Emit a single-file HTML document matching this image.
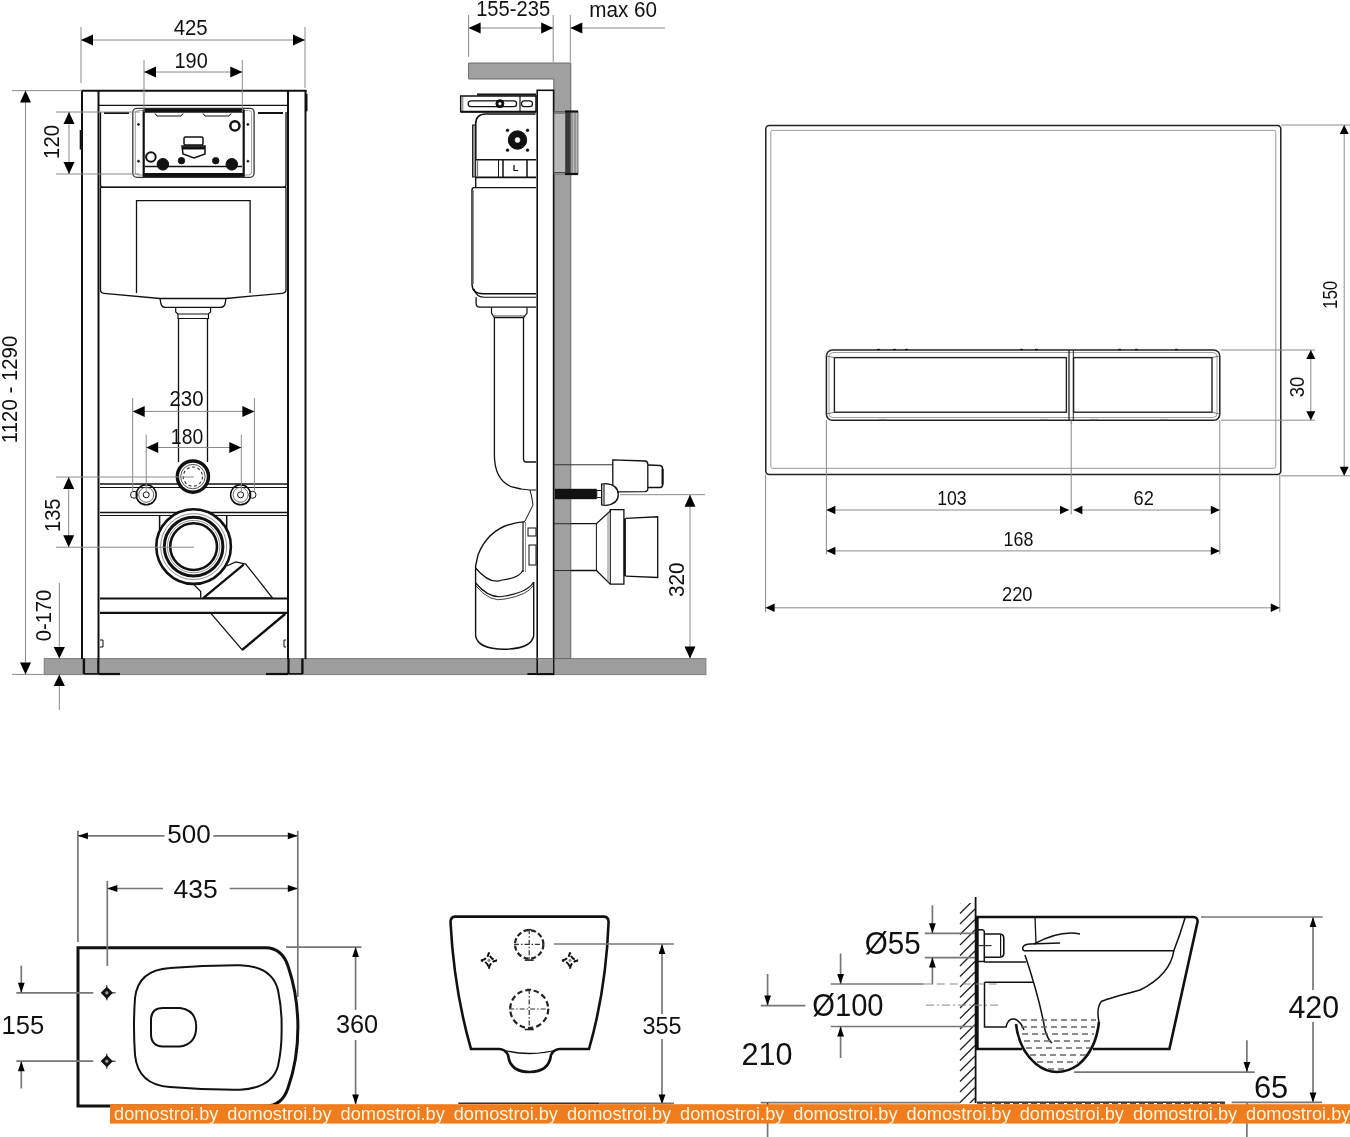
<!DOCTYPE html>
<html><head><meta charset="utf-8"><style>
html,body{margin:0;padding:0;background:#fff;}
body{width:1350px;height:1137px;overflow:hidden;}
svg{display:block;will-change:transform;}
text{font-family:"Liberation Sans",sans-serif;}
</style></head><body>
<svg width="1350" height="1137" viewBox="0 0 1350 1137">
<rect x="44.3" y="658.6" width="661.5" height="15.9" rx="0" stroke="#858585" stroke-width="1.2" fill="#9e9e9e" />
<line x1="82" y1="90" x2="82" y2="659" stroke="#111" stroke-width="2" />
<line x1="98.5" y1="90" x2="98.5" y2="659" stroke="#111" stroke-width="2" />
<line x1="83.9" y1="658.5" x2="83.9" y2="674" stroke="#111" stroke-width="2.4" />
<line x1="98.3" y1="658.5" x2="98.3" y2="674" stroke="#111" stroke-width="2.2" />
<line x1="83.9" y1="673.8" x2="98.3" y2="673.8" stroke="#111" stroke-width="1.5" />
<line x1="305.5" y1="90" x2="305.5" y2="659" stroke="#111" stroke-width="2" />
<line x1="288" y1="90" x2="288" y2="659" stroke="#111" stroke-width="2" />
<line x1="302.4" y1="658.5" x2="302.4" y2="674" stroke="#111" stroke-width="2.4" />
<line x1="288.5" y1="658.5" x2="288.5" y2="674" stroke="#111" stroke-width="2.2" />
<line x1="288.5" y1="673.8" x2="302.4" y2="673.8" stroke="#111" stroke-width="1.5" />
<line x1="98.5" y1="674" x2="120" y2="674" stroke="#111" stroke-width="2.2" />
<line x1="266" y1="674" x2="288" y2="674" stroke="#111" stroke-width="2.2" />
<line x1="81" y1="90.8" x2="306.5" y2="90.8" stroke="#111" stroke-width="2" />
<line x1="98" y1="105.4" x2="288" y2="105.4" stroke="#111" stroke-width="1.2" />
<path d="M100.5,112 L100.5,185 Q100.5,187.3 103,187.3 L283.5,187.3 Q286,187.3 286,185 L286,112" stroke="#111" stroke-width="1.3" fill="none" />
<path d="M104,113 L129,113" stroke="#111" stroke-width="2" fill="none" />
<path d="M258,113 L283,113" stroke="#111" stroke-width="2" fill="none" />
<line x1="100.5" y1="187.3" x2="286" y2="187.3" stroke="#111" stroke-width="1.5" />
<rect x="132.8" y="108.3" width="121.3" height="69" rx="4" stroke="#333" stroke-width="1.3" fill="none" />
<rect x="135.3" y="110.5" width="116.3" height="64.5" rx="3" stroke="#888" stroke-width="0.8" fill="none" />
<rect x="143.7" y="110.8" width="100" height="65" rx="0" stroke="#111" stroke-width="2.2" fill="none" />
<line x1="143.7" y1="110.8" x2="243.7" y2="110.8" stroke="#111" stroke-width="4" />
<line x1="143.7" y1="174.8" x2="243.7" y2="174.8" stroke="#111" stroke-width="3.5" />
<path d="M145,166.4 L242,166.4" stroke="#111" stroke-width="1.5" fill="none" />
<circle cx="138.5" cy="124.4" r="1" stroke="#111" stroke-width="0.8" fill="#111" />
<circle cx="138.5" cy="161.2" r="1" stroke="#111" stroke-width="0.8" fill="#111" />
<circle cx="247.9" cy="124.4" r="1" stroke="#111" stroke-width="0.8" fill="#111" />
<circle cx="247.9" cy="161.2" r="1" stroke="#111" stroke-width="0.8" fill="#111" />
<circle cx="234.9" cy="125.9" r="4.6" stroke="#111" stroke-width="2.5" fill="none" />
<circle cx="150.9" cy="157" r="4.8" stroke="#111" stroke-width="2" fill="none" />
<circle cx="162.9" cy="164.3" r="5.8" stroke="#111" stroke-width="1" fill="#111" />
<circle cx="231.8" cy="164.3" r="5.8" stroke="#111" stroke-width="1" fill="#111" />
<circle cx="181.5" cy="160.7" r="3.2" stroke="#111" stroke-width="1" fill="#111" />
<circle cx="215.7" cy="160.7" r="3.2" stroke="#111" stroke-width="1" fill="#111" />
<rect x="184" y="137" width="19" height="8" rx="1.5" stroke="#111" stroke-width="1.5" fill="none" />
<path d="M182,146 L205,146 L205,154 L194,158 L183,154 Z" stroke="#111" stroke-width="1.5" fill="none" />
<line x1="182" y1="148" x2="205" y2="148" stroke="#111" stroke-width="3" />
<path d="M155,113.5 L157,116 L181,116 L183,113.5" stroke="#111" stroke-width="1" fill="none" />
<path d="M203,113.5 L205,116 L229,116 L231,113.5" stroke="#111" stroke-width="1" fill="none" />
<path d="M136.5,293 L136.5,200.7 L250.1,200.7 L250.1,293" stroke="#111" stroke-width="1.3" fill="none" />
<path d="M100.5,187.3 L100.5,290 Q100.5,293 104,293.3 L160,298.5 L226,298.5 L282,293.3 Q286,293 286,290 L286,187.3" stroke="#111" stroke-width="1.3" fill="none" />
<path d="M160,298.5 L161,304 Q162,307.4 166,307.4 L220,307.4 Q224,307.4 225,304 L226,298.5" stroke="#111" stroke-width="1.3" fill="none" />
<path d="M175.7,307.4 L175.7,312 L178,314 L208.3,314 L210.6,312 L210.6,307.4" stroke="#111" stroke-width="1.2" fill="none" />
<path d="M178,314 L178,318.5 L208.5,318.5 L208.5,314" stroke="#111" stroke-width="1.2" fill="none" />
<line x1="178.5" y1="318.5" x2="178.5" y2="462" stroke="#111" stroke-width="1.3" />
<line x1="207.5" y1="318.5" x2="207.5" y2="462" stroke="#111" stroke-width="1.3" />
<line x1="100" y1="484" x2="287" y2="484" stroke="#111" stroke-width="1.3" />
<line x1="100" y1="487.5" x2="287" y2="487.5" stroke="#111" stroke-width="1" />
<circle cx="192.9" cy="476.6" r="15.6" stroke="#111" stroke-width="3.4" fill="#fff" />
<circle cx="192.9" cy="476.6" r="12.2" stroke="#555" stroke-width="1" fill="none" />
<circle cx="192.9" cy="476.6" r="9.6" stroke="#333" stroke-width="1.1" fill="none" stroke-dasharray="3 2.5"/>
<line x1="100" y1="512.5" x2="287" y2="512.5" stroke="#111" stroke-width="1.3" />
<line x1="100" y1="515.5" x2="287" y2="515.5" stroke="#111" stroke-width="1" />
<circle cx="146.2" cy="494.8" r="10" stroke="#111" stroke-width="1.5" fill="none" />
<circle cx="146.2" cy="494.8" r="7.5" stroke="#444" stroke-width="0.8" fill="none" />
<circle cx="146.2" cy="494.8" r="3" stroke="#111" stroke-width="1" fill="none" />
<circle cx="240.6" cy="494.8" r="10" stroke="#111" stroke-width="1.5" fill="none" />
<circle cx="240.6" cy="494.8" r="7.5" stroke="#444" stroke-width="0.8" fill="none" />
<circle cx="240.6" cy="494.8" r="3" stroke="#111" stroke-width="1" fill="none" />
<circle cx="134" cy="494.8" r="3.5" stroke="#111" stroke-width="1" fill="none" />
<circle cx="252.5" cy="494.8" r="3.5" stroke="#111" stroke-width="1" fill="none" />
<path d="M159.6,530 L159.6,515.5 M226.7,515.5 L226.7,530" stroke="#111" stroke-width="1.5" fill="none" />
<path d="M226.7,566 L235.8,561.9 L245.7,564 L272.4,597.8 L203.5,597.8 L243.6,564.7 M193.6,584.4 L200.7,591.5 L200.7,597.8" stroke="#111" stroke-width="1.3" fill="#fff" />
<line x1="203.5" y1="597.8" x2="243.6" y2="564.7" stroke="#111" stroke-width="2.2" />
<circle cx="193.6" cy="546.6" r="37.3" stroke="#111" stroke-width="2.6" fill="#fff" />
<circle cx="193.6" cy="546.6" r="33" stroke="#777" stroke-width="0.8" fill="none" />
<circle cx="193.6" cy="546.6" r="29.3" stroke="#111" stroke-width="3" fill="none" />
<circle cx="193.6" cy="546.6" r="26.2" stroke="#777" stroke-width="0.8" fill="none" />
<circle cx="193.6" cy="546.6" r="23.4" stroke="#111" stroke-width="2.6" fill="none" />
<line x1="100" y1="598.5" x2="287" y2="598.5" stroke="#111" stroke-width="2.2" />
<line x1="100" y1="612.8" x2="287" y2="612.8" stroke="#111" stroke-width="2.2" />
<path d="M210.5,612.8 L242.2,649.9 L285.1,614" stroke="#111" stroke-width="1.3" fill="none" />
<line x1="242.2" y1="649.9" x2="285.1" y2="614" stroke="#111" stroke-width="2.4" />
<path d="M100,640 L103,640 L103,647 L100,647" stroke="#111" stroke-width="1" fill="none" />
<path d="M286,640 L284,640 L284,647 L286,647" stroke="#111" stroke-width="1" fill="none" />
<path d="M305.5,95 L306.6,95 L306.6,110.3 L305.5,110.3" stroke="#111" stroke-width="1.8" fill="none" />
<path d="M82,131 L80.6,131 L80.6,148.7 L82,148.7" stroke="#111" stroke-width="1.8" fill="none" />
<line x1="81" y1="27" x2="81" y2="83" stroke="#8a8a8a" stroke-width="1" />
<line x1="305" y1="27" x2="305" y2="88" stroke="#8a8a8a" stroke-width="1" />
<line x1="81" y1="40" x2="305" y2="40" stroke="#8a8a8a" stroke-width="1" />
<polygon points="81.0,40.0 93.0,34.5 93.0,45.5" fill="#000"/>
<polygon points="305.0,40.0 293.0,34.5 293.0,45.5" fill="#000"/>
<line x1="144" y1="60" x2="144" y2="112" stroke="#8a8a8a" stroke-width="1" />
<line x1="242.3" y1="60" x2="242.3" y2="112" stroke="#8a8a8a" stroke-width="1" />
<line x1="144" y1="72" x2="242.3" y2="72" stroke="#8a8a8a" stroke-width="1" />
<polygon points="144.0,72.0 156.0,66.5 156.0,77.5" fill="#000"/>
<polygon points="242.3,72.0 230.3,66.5 230.3,77.5" fill="#000"/>
<line x1="12" y1="90.6" x2="82" y2="90.6" stroke="#8a8a8a" stroke-width="1" />
<line x1="12" y1="674.4" x2="44" y2="674.4" stroke="#8a8a8a" stroke-width="1" />
<line x1="25.5" y1="90.6" x2="25.5" y2="674.4" stroke="#8a8a8a" stroke-width="1" />
<polygon points="25.5,90.6 20.0,102.6 31.0,102.6" fill="#000"/>
<polygon points="25.5,674.4 20.0,662.4 31.0,662.4" fill="#000"/>
<line x1="56" y1="112" x2="140" y2="112" stroke="#8a8a8a" stroke-width="1" />
<line x1="56" y1="174" x2="140" y2="174" stroke="#8a8a8a" stroke-width="1" />
<line x1="69" y1="112" x2="69" y2="174" stroke="#8a8a8a" stroke-width="1" />
<polygon points="69.0,112.0 63.5,124.0 74.5,124.0" fill="#000"/>
<polygon points="69.0,174.0 63.5,162.0 74.5,162.0" fill="#000"/>
<line x1="56" y1="477" x2="194" y2="477" stroke="#8a8a8a" stroke-width="1" />
<line x1="56" y1="547.2" x2="194" y2="547.2" stroke="#8a8a8a" stroke-width="1" />
<line x1="68.7" y1="477" x2="68.7" y2="547.2" stroke="#8a8a8a" stroke-width="1" />
<polygon points="68.7,477.0 63.2,489.0 74.2,489.0" fill="#000"/>
<polygon points="68.7,547.2 63.2,535.2 74.2,535.2" fill="#000"/>
<line x1="59.3" y1="583" x2="59.3" y2="658.5" stroke="#8a8a8a" stroke-width="1" />
<polygon points="59.3,658.5 53.7,647.0 64.9,647.0" fill="#000"/>
<line x1="59.3" y1="674.4" x2="59.3" y2="710" stroke="#8a8a8a" stroke-width="1" />
<polygon points="59.3,674.4 53.7,685.9 64.9,685.9" fill="#000"/>
<line x1="132.7" y1="398" x2="132.7" y2="492" stroke="#8a8a8a" stroke-width="1" />
<line x1="254.4" y1="398" x2="254.4" y2="492" stroke="#8a8a8a" stroke-width="1" />
<line x1="132.7" y1="411.4" x2="254.4" y2="411.4" stroke="#8a8a8a" stroke-width="1" />
<polygon points="132.7,411.4 144.7,405.9 144.7,416.9" fill="#000"/>
<polygon points="254.4,411.4 242.4,405.9 242.4,416.9" fill="#000"/>
<line x1="146.2" y1="434.5" x2="146.2" y2="492" stroke="#8a8a8a" stroke-width="1" />
<line x1="241.3" y1="434.5" x2="241.3" y2="492" stroke="#8a8a8a" stroke-width="1" />
<line x1="146.2" y1="447.5" x2="241.3" y2="447.5" stroke="#8a8a8a" stroke-width="1" />
<polygon points="146.2,447.5 158.2,442.0 158.2,453.0" fill="#000"/>
<polygon points="241.3,447.5 229.3,442.0 229.3,453.0" fill="#000"/>
<path d="M468.6,63 L570.8,63 L570.8,658.5 L553.8,658.5 L553.8,79 L468.6,79 Z" stroke="#6a6a6a" stroke-width="1" fill="#a0a0a0" />
<rect x="537.2" y="90.3" width="16.4" height="584" rx="0" stroke="#111" stroke-width="1.6" fill="#fff" />
<line x1="537.2" y1="658.5" x2="553.6" y2="658.5" stroke="#777" stroke-width="1" />
<rect x="538" y="659" width="15" height="15" rx="0" stroke="none" stroke-width="0" fill="#9e9e9e" />
<line x1="527.4" y1="674" x2="553.6" y2="674" stroke="#111" stroke-width="2" />
<rect x="554" y="111.5" width="24" height="62.5" rx="0" stroke="#555" stroke-width="0.8" fill="#b8b8b8" />
<rect x="565.2" y="111.5" width="5.5" height="62.5" rx="0" stroke="none" stroke-width="0" fill="#3a3a3a" />
<line x1="572" y1="112" x2="572" y2="174" stroke="#666" stroke-width="0.8" />
<line x1="575" y1="112" x2="575" y2="174" stroke="#666" stroke-width="0.8" />
<line x1="565" y1="111.5" x2="578" y2="111.5" stroke="#111" stroke-width="2.2" />
<line x1="565" y1="174" x2="578" y2="174" stroke="#111" stroke-width="2.2" />
<line x1="554" y1="113" x2="565" y2="113" stroke="#444" stroke-width="1" />
<line x1="554" y1="172.5" x2="565" y2="172.5" stroke="#444" stroke-width="1" />
<path d="M460.7,96 L536,96 L536,111.8 L460.7,111.8 Z" stroke="#111" stroke-width="1.5" fill="none" />
<line x1="477" y1="94.5" x2="536" y2="94.5" stroke="#111" stroke-width="2.2" />
<line x1="462.8" y1="97" x2="462.8" y2="111" stroke="#555" stroke-width="0.8" />
<rect x="468.2" y="100.8" width="48.4" height="5.8" rx="2.9" stroke="#111" stroke-width="1.3" fill="none" />
<circle cx="499.9" cy="103.7" r="4" stroke="#111" stroke-width="1" fill="#111" />
<circle cx="499.9" cy="103.7" r="1.3" stroke="#fff" stroke-width="0.5" fill="#fff" />
<line x1="520" y1="96" x2="520" y2="111.8" stroke="#111" stroke-width="1.2" />
<rect x="521.5" y="100.8" width="11" height="5.8" rx="2.9" stroke="#111" stroke-width="1.2" fill="none" />
<line x1="461" y1="111.8" x2="536" y2="111.8" stroke="#111" stroke-width="2" />
<path d="M475.7,159.8 L475.7,124 Q475.7,114 486,114 L535.5,114" stroke="#111" stroke-width="1.6" fill="none" />
<circle cx="517.5" cy="140" r="9.2" stroke="#111" stroke-width="1" fill="#111" />
<circle cx="517.5" cy="140" r="2.5" stroke="#ccc" stroke-width="0.8" fill="#fff" />
<circle cx="507.5" cy="130.3" r="1.4" stroke="#111" stroke-width="0.5" fill="#111" />
<circle cx="507.5" cy="150.2" r="1.4" stroke="#111" stroke-width="0.5" fill="#111" />
<circle cx="527.5" cy="130.3" r="1.4" stroke="#111" stroke-width="0.5" fill="#111" />
<circle cx="527.5" cy="150.2" r="1.4" stroke="#111" stroke-width="0.5" fill="#111" />
<line x1="475.7" y1="159.8" x2="536" y2="159.8" stroke="#111" stroke-width="1.6" />
<line x1="475.7" y1="177.4" x2="536" y2="177.4" stroke="#111" stroke-width="1.6" />
<line x1="477.5" y1="160" x2="477.5" y2="177" stroke="#777" stroke-width="1.2" />
<line x1="498.5" y1="160" x2="498.5" y2="177" stroke="#111" stroke-width="1" />
<line x1="503" y1="160" x2="503" y2="177" stroke="#111" stroke-width="1.5" />
<line x1="527" y1="160" x2="527" y2="177" stroke="#111" stroke-width="1.5" />
<text x="515.5" y="171" font-size="9" text-anchor="middle" fill="#111" font-family="Liberation Sans" font-weight="bold">L</text>
<rect x="472.6" y="125" width="3" height="52" rx="0" stroke="#111" stroke-width="1" fill="#999" />
<path d="M475.7,177.4 L475.7,187.6 M536,187.6 L474,187.6 Q472,187.6 472,190 L472,284 Q472,293.8 483,293.8 L536,293.8" stroke="#111" stroke-width="1.4" fill="none" />
<line x1="473.4" y1="190" x2="473.4" y2="284" stroke="#666" stroke-width="0.8" />
<path d="M474,289 Q476,297.3 485,297.3 L536,297.3" stroke="#111" stroke-width="1.1" fill="none" />
<path d="M476.1,297.3 L476.1,303.5 Q476.1,307.1 480,307.1 L536,307.1" stroke="#111" stroke-width="1.3" fill="none" />
<path d="M491.5,307.5 L491.5,313 L494.4,317.7 L523.5,317.7 L527,313 L527,307.5" stroke="#111" stroke-width="1.2" fill="none" />
<line x1="494" y1="316" x2="524" y2="316" stroke="#111" stroke-width="0.8" />
<path d="M494.4,317.7 L494.4,455 Q494.4,480 512,487 L521,489" stroke="#111" stroke-width="1.3" fill="none" />
<path d="M523.5,317.7 L523.5,459 Q523.5,462 526,462 L536,462" stroke="#111" stroke-width="1.3" fill="none" />
<path d="M521,489 L530,490 L531.5,496 L533,505 L525,521" stroke="#111" stroke-width="1" fill="none" />
<path d="M530,490 L536,490" stroke="#111" stroke-width="1" fill="none" />
<path d="M525,521.6 Q490,524 478,555 L475.6,566 L475.6,636 Q478,649 504,649.2 Q531,649 533.7,636 L533.7,582" stroke="#111" stroke-width="1.4" fill="none" />
<path d="M475.6,568 Q490,585 502,580 Q520,578 523,570" stroke="#111" stroke-width="1.2" fill="none" />
<path d="M475.6,583 Q490,600 505,596 Q528,592 533.7,582" stroke="#111" stroke-width="1.2" fill="none" />
<path d="M476,586 Q490,603 505,599 Q528,595 533.7,585" stroke="#111" stroke-width="0.8" fill="none" />
<line x1="523" y1="522" x2="523" y2="572" stroke="#111" stroke-width="1.2" />
<line x1="525.5" y1="522" x2="525.5" y2="572" stroke="#777" stroke-width="0.8" />
<rect x="528" y="528" width="8" height="8" rx="0" stroke="#111" stroke-width="1" fill="none" />
<rect x="529" y="545" width="7" height="20" rx="0" stroke="#111" stroke-width="1" fill="none" />
<line x1="554" y1="464.8" x2="612.8" y2="464.8" stroke="#333" stroke-width="1.1" />
<path d="M612.8,459.8 L645,461 Q647.8,461.2 647.8,464 L647.8,489 Q647.8,491.5 645,491.6 L612.8,491.9 Z" stroke="#111" stroke-width="1.3" fill="none" />
<path d="M647.8,465 L660,465.6 Q662.6,466 662.6,469 L662.6,484.5 Q662.6,487.4 660,487.5 L647.8,487.6" stroke="#111" stroke-width="1.5" fill="none" />
<line x1="662.6" y1="469" x2="662.6" y2="484.5" stroke="#111" stroke-width="2" />
<rect x="554.9" y="488.8" width="41.9" height="10.4" rx="0" stroke="none" stroke-width="0" fill="#111" />
<rect x="596.8" y="490.5" width="4.9" height="7.1" rx="0" stroke="#111" stroke-width="1" fill="#fff" />
<path d="M601.7,484.2 L606,483.7 Q618.3,485 618.3,494.5 Q618.3,504 606,505.3 L601.7,504.8 Z" stroke="#111" stroke-width="1.3" fill="#fff" />
<line x1="604" y1="484.5" x2="604" y2="504.5" stroke="#111" stroke-width="1.1" />
<line x1="554" y1="523.7" x2="570.8" y2="523.7" stroke="#333" stroke-width="1.1" />
<line x1="554" y1="570.5" x2="570.8" y2="570.5" stroke="#333" stroke-width="1.1" />
<path d="M570.8,523.7 L596.4,523.7 L610.3,511 L610.3,509.7 L623.9,509.7 L623.9,584.2 L610.3,584.2 L596.4,570.5 L570.8,570.5" stroke="#111" stroke-width="1.3" fill="none" />
<line x1="596.4" y1="523.7" x2="596.4" y2="570.5" stroke="#111" stroke-width="1" />
<line x1="610.3" y1="509.7" x2="610.3" y2="584.2" stroke="#111" stroke-width="1.1" />
<line x1="608" y1="512" x2="608" y2="582" stroke="#666" stroke-width="0.8" />
<path d="M625.7,518.3 L657.7,516.8 L657.7,577.5 L625.7,576.2" stroke="#111" stroke-width="1.3" fill="none" />
<rect x="623.9" y="518.3" width="2" height="58" rx="0" stroke="none" stroke-width="0" fill="#111" />
<line x1="620" y1="494.7" x2="705" y2="494.7" stroke="#8a8a8a" stroke-width="1" />
<line x1="690" y1="494.7" x2="690" y2="658.4" stroke="#8a8a8a" stroke-width="1" />
<polygon points="690.0,494.7 684.5,506.7 695.5,506.7" fill="#000"/>
<polygon points="690.0,658.4 684.5,646.4 695.5,646.4" fill="#000"/>
<line x1="468.6" y1="15" x2="468.6" y2="57" stroke="#8a8a8a" stroke-width="1" />
<line x1="553.2" y1="15" x2="553.2" y2="62" stroke="#8a8a8a" stroke-width="1" />
<line x1="468.6" y1="28" x2="553.2" y2="28" stroke="#8a8a8a" stroke-width="1" />
<polygon points="468.6,28.0 480.6,22.5 480.6,33.5" fill="#000"/>
<polygon points="553.2,28.0 541.2,22.5 541.2,33.5" fill="#000"/>
<line x1="570.3" y1="15" x2="570.3" y2="62" stroke="#8a8a8a" stroke-width="1" />
<line x1="570.3" y1="28" x2="665" y2="28" stroke="#8a8a8a" stroke-width="1" />
<polygon points="570.3,28.0 582.3,22.5 582.3,33.5" fill="#000"/>
<rect x="765.8" y="125.6" width="515" height="348.8" rx="3.5" stroke="#222" stroke-width="1.5" fill="none" />
<rect x="770.8" y="130.3" width="505" height="338" rx="2" stroke="#999" stroke-width="1" fill="none" />
<rect x="826.4" y="350" width="393.4" height="70.2" rx="6" stroke="#222" stroke-width="1.5" fill="none" />
<rect x="829" y="352.5" width="388" height="65" rx="4" stroke="#888" stroke-width="0.8" fill="none" />
<rect x="834.4" y="357.6" width="232" height="54.6" rx="0" stroke="#222" stroke-width="1.4" fill="none" />
<rect x="1073.6" y="357.6" width="138.4" height="54.6" rx="0" stroke="#222" stroke-width="1.4" fill="none" />
<line x1="1069" y1="350" x2="1069" y2="420" stroke="#222" stroke-width="1.3" />
<line x1="1073.3" y1="350" x2="1073.3" y2="420" stroke="#222" stroke-width="1.0" />
<line x1="1071.2" y1="420" x2="1071.2" y2="424" stroke="#666" stroke-width="1" />
<line x1="877" y1="349.5" x2="880" y2="349.5" stroke="#111" stroke-width="1.3" />
<line x1="893" y1="349.5" x2="896" y2="349.5" stroke="#111" stroke-width="1.3" />
<line x1="905" y1="349.5" x2="908" y2="349.5" stroke="#111" stroke-width="1.3" />
<line x1="1020" y1="349.5" x2="1023" y2="349.5" stroke="#111" stroke-width="1.3" />
<line x1="1035" y1="349.5" x2="1038" y2="349.5" stroke="#111" stroke-width="1.3" />
<line x1="1118" y1="349.5" x2="1121" y2="349.5" stroke="#111" stroke-width="1.3" />
<line x1="1135" y1="349.5" x2="1138" y2="349.5" stroke="#111" stroke-width="1.3" />
<line x1="1175" y1="349.5" x2="1178" y2="349.5" stroke="#111" stroke-width="1.3" />
<line x1="879" y1="419.5" x2="887" y2="419.5" stroke="#777" stroke-width="1.2" />
<line x1="1040" y1="419.5" x2="1048" y2="419.5" stroke="#777" stroke-width="1.2" />
<line x1="1090" y1="419.5" x2="1098" y2="419.5" stroke="#777" stroke-width="1.2" />
<line x1="1160" y1="419.5" x2="1168" y2="419.5" stroke="#777" stroke-width="1.2" />
<path d="M826.4,356 L834.4,357.6 M826.4,414 L834.4,412.2 M1219.8,356 L1212,357.6 M1219.8,414 L1212,412.2" stroke="#555" stroke-width="0.8" fill="none" />
<line x1="1281" y1="125" x2="1350" y2="125" stroke="#8a8a8a" stroke-width="1" />
<line x1="1281" y1="475.8" x2="1350" y2="475.8" stroke="#8a8a8a" stroke-width="1" />
<line x1="1344.2" y1="125" x2="1344.2" y2="475.8" stroke="#8a8a8a" stroke-width="1" />
<polygon points="1344.2,125.0 1339.7,134.0 1348.7,134.0" fill="#000"/>
<polygon points="1344.2,475.8 1339.7,466.8 1348.7,466.8" fill="#000"/>
<line x1="1221" y1="350" x2="1315" y2="350" stroke="#8a8a8a" stroke-width="1" />
<line x1="1221" y1="420.2" x2="1315" y2="420.2" stroke="#8a8a8a" stroke-width="1" />
<line x1="1310.8" y1="350" x2="1310.8" y2="420.2" stroke="#8a8a8a" stroke-width="1" />
<polygon points="1310.8,350.0 1306.3,359.0 1315.3,359.0" fill="#000"/>
<polygon points="1310.8,420.2 1306.3,411.2 1315.3,411.2" fill="#000"/>
<line x1="826.4" y1="420" x2="826.4" y2="554.4" stroke="#8a8a8a" stroke-width="1" />
<line x1="1219.8" y1="420" x2="1219.8" y2="554.4" stroke="#8a8a8a" stroke-width="1" />
<line x1="1071.2" y1="424" x2="1071.2" y2="514.4" stroke="#8a8a8a" stroke-width="1" />
<line x1="765.6" y1="474.4" x2="765.6" y2="612.2" stroke="#8a8a8a" stroke-width="1" />
<line x1="1279.8" y1="474.4" x2="1279.8" y2="612.2" stroke="#8a8a8a" stroke-width="1" />
<line x1="826.4" y1="510" x2="1069" y2="510" stroke="#8a8a8a" stroke-width="1" />
<polygon points="826.4,510.0 835.4,505.8 835.4,514.2" fill="#000"/>
<polygon points="1069.0,510.0 1060.0,505.8 1060.0,514.2" fill="#000"/>
<line x1="1073.4" y1="510" x2="1219.8" y2="510" stroke="#8a8a8a" stroke-width="1" />
<polygon points="1073.4,510.0 1082.4,505.8 1082.4,514.2" fill="#000"/>
<polygon points="1219.8,510.0 1210.8,505.8 1210.8,514.2" fill="#000"/>
<line x1="826.4" y1="550.9" x2="1219.8" y2="550.9" stroke="#8a8a8a" stroke-width="1" />
<polygon points="826.4,550.9 835.4,546.7 835.4,555.1" fill="#000"/>
<polygon points="1219.8,550.9 1210.8,546.7 1210.8,555.1" fill="#000"/>
<line x1="765.6" y1="607.8" x2="1279.8" y2="607.8" stroke="#8a8a8a" stroke-width="1" />
<polygon points="765.6,607.8 774.6,603.6 774.6,612.0" fill="#000"/>
<polygon points="1279.8,607.8 1270.8,603.6 1270.8,612.0" fill="#000"/>
<path d="M78,947.8 L265.6,947.8 Q282,948 288,966 Q297.9,995 297.9,1027.4 Q297.9,1060 288,1088 Q282,1106 265.6,1106 L78,1106 Z" stroke="#111" stroke-width="3" fill="none" />
<path d="M170,968 Q205,965 240,965.2 Q272,966 278,990 Q282,1010 281.6,1027 Q282,1048 278,1066 Q272,1088 240,1089.7 Q205,1090 170,1087 Q138,1085 135,1055 Q134,1040 134,1027 Q134,1012 135,998 Q138,970 170,968 Z" stroke="#111" stroke-width="2" fill="none" />
<path d="M163,1007.9 L180,1007.9 Q196.2,1010 196.2,1027 Q196.2,1044 180,1046.6 L163,1046.6 Q151,1046 151,1034 L151,1020 Q151,1008 163,1007.9 Z" stroke="#111" stroke-width="2" fill="none" />
<line x1="106.8" y1="985.3" x2="106.8" y2="1000.3" stroke="#333" stroke-width="1.2" />
<line x1="110" y1="992.8" x2="115.5" y2="992.8" stroke="#444" stroke-width="1.3" />
<path d="M106.8,988.4 L111.2,992.8 L106.8,997.1999999999999 L102.4,992.8 Z" stroke="#111" stroke-width="2.4" fill="#222" />
<circle cx="106.8" cy="992.8" r="1.3" stroke="#999" stroke-width="0.6" fill="#aaa" />
<line x1="106.8" y1="1053.7" x2="106.8" y2="1068.7" stroke="#333" stroke-width="1.2" />
<line x1="110" y1="1061.2" x2="115.5" y2="1061.2" stroke="#444" stroke-width="1.3" />
<path d="M106.8,1056.8 L111.2,1061.2 L106.8,1065.6000000000001 L102.4,1061.2 Z" stroke="#111" stroke-width="2.4" fill="#222" />
<circle cx="106.8" cy="1061.2" r="1.3" stroke="#999" stroke-width="0.6" fill="#aaa" />
<line x1="77.9" y1="830.7" x2="77.9" y2="942" stroke="#777" stroke-width="1.7" />
<line x1="297.8" y1="830.7" x2="297.8" y2="997" stroke="#777" stroke-width="1.7" />
<line x1="77.9" y1="835.8" x2="164.4" y2="835.8" stroke="#777" stroke-width="1.7" />
<line x1="213.3" y1="835.8" x2="297.8" y2="835.8" stroke="#777" stroke-width="1.7" />
<polygon points="77.9,835.8 87.9,832.4 87.9,839.2" fill="#000"/>
<polygon points="297.8,835.8 287.8,832.4 287.8,839.2" fill="#000"/>
<line x1="107.3" y1="881" x2="107.3" y2="966" stroke="#777" stroke-width="1.7" />
<line x1="107.3" y1="888.5" x2="163" y2="888.5" stroke="#777" stroke-width="1.7" />
<line x1="229.6" y1="888.5" x2="297.8" y2="888.5" stroke="#777" stroke-width="1.7" />
<polygon points="107.3,888.5 117.3,885.1 117.3,891.9" fill="#000"/>
<polygon points="297.8,888.5 287.8,885.1 287.8,891.9" fill="#000"/>
<line x1="16.3" y1="992.8" x2="93.3" y2="992.8" stroke="#777" stroke-width="1.7" />
<line x1="16.3" y1="1061.2" x2="93.3" y2="1061.2" stroke="#777" stroke-width="1.7" />
<line x1="21.3" y1="965.6" x2="21.3" y2="992.8" stroke="#777" stroke-width="1.7" />
<polygon points="21.3,992.8 17.9,982.8 24.7,982.8" fill="#000"/>
<line x1="21.3" y1="1061.2" x2="21.3" y2="1088.5" stroke="#777" stroke-width="1.7" />
<polygon points="21.3,1061.2 17.9,1071.2 24.7,1071.2" fill="#000"/>
<line x1="286" y1="947.1" x2="361.5" y2="947.1" stroke="#777" stroke-width="1.7" />
<line x1="355.6" y1="947.1" x2="355.6" y2="1010" stroke="#777" stroke-width="1.7" />
<line x1="355.6" y1="1040" x2="355.6" y2="1104" stroke="#777" stroke-width="1.7" />
<polygon points="355.6,947.1 352.2,957.1 359.0,957.1" fill="#000"/>
<polygon points="355.6,1104.5 352.2,1094.5 359.0,1094.5" fill="#000"/>
<path d="M455,916.6 L604,916.6 Q608.6,917 608.6,922 Q606,990 589,1049 L560,1049 Q554,1049 551,1055 Q549,1072 529.5,1072 Q510,1072 508,1055 Q505,1049 499,1049 L471,1049 Q454,990 450.5,922 Q450.5,917 455,916.6 Z" stroke="#111" stroke-width="2.6" fill="none" />
<path d="M499,1049 Q529.5,1058 560,1049" stroke="#111" stroke-width="1.3" fill="none" />
<circle cx="529.2" cy="944.4" r="14.2" stroke="#222" stroke-width="2.2" fill="none" stroke-dasharray="5 2.6"/>
<circle cx="529.2" cy="1009" r="19" stroke="#222" stroke-width="2.2" fill="none" stroke-dasharray="5.5 3"/>
<line x1="514.0" y1="944.4" x2="544.4000000000001" y2="944.4" stroke="#333" stroke-width="1.2" stroke-dasharray="5 2 1.5 2"/>
<line x1="529.2" y1="929.1999999999999" x2="529.2" y2="960.6" stroke="#333" stroke-width="1.2" stroke-dasharray="5 2 1.5 2"/>
<line x1="524.7" y1="960.1" x2="533.7" y2="960.1" stroke="#222" stroke-width="1.6" />
<line x1="527.2" y1="929.6999999999999" x2="531.2" y2="929.6999999999999" stroke="#222" stroke-width="1.6" />
<line x1="509.20000000000005" y1="1009" x2="549.2" y2="1009" stroke="#333" stroke-width="1.2" stroke-dasharray="5 2 1.5 2"/>
<line x1="529.2" y1="989" x2="529.2" y2="1030" stroke="#333" stroke-width="1.2" stroke-dasharray="5 2 1.5 2"/>
<line x1="524.7" y1="1029.5" x2="533.7" y2="1029.5" stroke="#222" stroke-width="1.6" />
<line x1="527.2" y1="989.5" x2="531.2" y2="989.5" stroke="#222" stroke-width="1.6" />
<path d="M480.9,960.5 Q487.9,959.5 488.9,952.5 Q489.9,959.5 496.9,960.5 Q489.9,961.5 488.9,968.5 Q487.9,961.5 480.9,960.5 Z" stroke="#111" stroke-width="2.0" fill="none" stroke-dasharray="5.5 2.2"/>
<circle cx="488.9" cy="960.5" r="1.2" stroke="#777" stroke-width="0.6" fill="#888" />
<path d="M562,960.5 Q569,959.5 570,952.5 Q571,959.5 578,960.5 Q571,961.5 570,968.5 Q569,961.5 562,960.5 Z" stroke="#111" stroke-width="2.0" fill="none" stroke-dasharray="5.5 2.2"/>
<circle cx="570" cy="960.5" r="1.2" stroke="#777" stroke-width="0.6" fill="#888" />
<line x1="554" y1="944" x2="674" y2="944" stroke="#777" stroke-width="1.7" />
<line x1="662" y1="944" x2="662" y2="1014" stroke="#777" stroke-width="1.7" />
<line x1="662" y1="1039" x2="662" y2="1104" stroke="#777" stroke-width="1.7" />
<polygon points="662.0,944.0 658.6,954.0 665.4,954.0" fill="#000"/>
<polygon points="662.0,1104.5 658.6,1094.5 665.4,1094.5" fill="#000"/>
<line x1="458.3" y1="1103.3" x2="599" y2="1103.3" stroke="#333" stroke-width="1.6" />
<line x1="599" y1="1103.3" x2="674" y2="1103.3" stroke="#777" stroke-width="1.7" />
<line x1="975.6" y1="897" x2="975.6" y2="1103" stroke="#111" stroke-width="1.8" />
<clipPath id="hc"><rect x="958" y="903" width="17" height="200"/></clipPath>
<path d="M960,903.0 L975,888.0 M960,913.5 L975,898.5 M960,924.0 L975,909.0 M960,934.5 L975,919.5 M960,945.0 L975,930.0 M960,955.5 L975,940.5 M960,966.0 L975,951.0 M960,976.5 L975,961.5 M960,987.0 L975,972.0 M960,997.5 L975,982.5 M960,1008.0 L975,993.0 M960,1018.5 L975,1003.5 M960,1029.0 L975,1014.0 M960,1039.5 L975,1024.5 M960,1050.0 L975,1035.0 M960,1060.5 L975,1045.5 M960,1071.0 L975,1056.0 M960,1081.5 L975,1066.5 M960,1092.0 L975,1077.0 M960,1102.5 L975,1087.5 M960,1113.0 L975,1098.0 M960,1123.5 L975,1108.5 M960,1134.0 L975,1119.0 M960,1144.5 L975,1129.5 " stroke="#222" stroke-width="1.3" fill="none" clip-path="url(#hc)"/>
<line x1="977.2" y1="916" x2="977.2" y2="1049" stroke="#111" stroke-width="3" />
<path d="M975.6,917 L1193,917 Q1198,917 1197.5,922 L1169.4,1049 L1093,1049" stroke="#111" stroke-width="2.6" fill="none" />
<path d="M975.6,1049 L1022,1049" stroke="#111" stroke-width="2.6" fill="none" />
<path d="M1016,1024 Q1019,1050 1036,1064 Q1046,1072 1056.8,1072 Q1068,1072 1078,1065 Q1096,1050 1099,1022" stroke="#111" stroke-width="2.6" fill="none" />
<path d="M1023.6,950.8 L1173.8,950.8 Q1180,935 1185,918" stroke="#111" stroke-width="1.5" fill="none" />
<path d="M1173.8,950.8 Q1170,975 1140,990 Q1110,998 1101.5,1001.3 Q1096,1008 1099,1022" stroke="#111" stroke-width="1.5" fill="none" />
<path d="M1023.6,950.8 Q1020,945 1030,944 L1060,943" stroke="#111" stroke-width="1.5" fill="none" />
<path d="M1034,944 Q1060,930 1080,934" stroke="#111" stroke-width="1.5" fill="none" />
<path d="M1025,955 Q1040,1000 1045,1030 Q1048,1040 1052,1043" stroke="#111" stroke-width="1.5" fill="none" />
<line x1="1035" y1="917" x2="1036" y2="943" stroke="#111" stroke-width="1.3" />
<path d="M984.5,982.2 L1034,982.2 M984.5,982.2 L984.5,1027 L1006,1027 Q1008,1018 1014,1019 Q1020,1020 1024,1030" stroke="#111" stroke-width="1.5" fill="none" />
<path d="M978,929.8 L982.5,929.8 Q984.3,930 984.3,932 L984.3,961.5 L978,961.5" stroke="#111" stroke-width="1.5" fill="none" />
<path d="M984.3,934 L1000,934 Q1003.8,934.5 1003.8,938 L1003.8,953 Q1003.8,957 1000,957.2 L984.3,957.2" stroke="#111" stroke-width="1.6" fill="none" />
<line x1="1000.6" y1="935" x2="1000.6" y2="956.5" stroke="#111" stroke-width="1.2" />
<line x1="978" y1="945.6" x2="991.6" y2="945.6" stroke="#333" stroke-width="1.2" />
<line x1="984.3" y1="962" x2="1026" y2="962" stroke="#111" stroke-width="1.5" />
<line x1="1021" y1="1020" x2="1096" y2="1020" stroke="#666" stroke-width="1.6" stroke-dasharray="6 4"/>
<line x1="1021" y1="1027" x2="1095" y2="1027" stroke="#666" stroke-width="1.6" stroke-dasharray="6 4"/>
<line x1="1022" y1="1034" x2="1094" y2="1034" stroke="#666" stroke-width="1.6" stroke-dasharray="6 4"/>
<line x1="1024" y1="1041" x2="1092" y2="1041" stroke="#666" stroke-width="1.6" stroke-dasharray="6 4"/>
<line x1="1026" y1="1048" x2="1090" y2="1048" stroke="#666" stroke-width="1.6" stroke-dasharray="6 4"/>
<line x1="1030" y1="1055" x2="1086" y2="1055" stroke="#666" stroke-width="1.6" stroke-dasharray="6 4"/>
<line x1="1037" y1="1062" x2="1078" y2="1062" stroke="#666" stroke-width="1.6" stroke-dasharray="6 4"/>
<line x1="1048" y1="1069" x2="1066" y2="1069" stroke="#666" stroke-width="1.6" stroke-dasharray="6 4"/>
<line x1="924.8" y1="933.3" x2="975" y2="933.3" stroke="#777" stroke-width="1.7" />
<line x1="924.8" y1="957.6" x2="975" y2="957.6" stroke="#777" stroke-width="1.7" />
<line x1="932.4" y1="905.3" x2="932.4" y2="933.3" stroke="#777" stroke-width="1.7" />
<polygon points="932.4,933.3 929.0,923.3 935.8,923.3" fill="#000"/>
<line x1="932.4" y1="957.6" x2="932.4" y2="984.5" stroke="#777" stroke-width="1.7" />
<polygon points="932.4,957.6 929.0,967.6 935.8,967.6" fill="#000"/>
<line x1="830.7" y1="984" x2="923.7" y2="984" stroke="#777" stroke-width="1.7" />
<line x1="923.7" y1="984" x2="1000" y2="984" stroke="#888" stroke-width="1" stroke-dasharray="8 5"/>
<line x1="830.7" y1="1026.5" x2="975" y2="1026.5" stroke="#777" stroke-width="1.7" />
<line x1="840.6" y1="953.5" x2="840.6" y2="984" stroke="#777" stroke-width="1.7" />
<polygon points="840.6,984.0 837.2,974.0 844.0,974.0" fill="#000"/>
<line x1="840.6" y1="1026.5" x2="840.6" y2="1058" stroke="#777" stroke-width="1.7" />
<polygon points="840.6,1026.5 837.2,1036.5 844.0,1036.5" fill="#000"/>
<line x1="926" y1="1005.1" x2="1000.6" y2="1005.1" stroke="#888" stroke-width="1" stroke-dasharray="8 3 2 3"/>
<line x1="760.7" y1="1005.6" x2="805.4" y2="1005.6" stroke="#777" stroke-width="1.7" />
<line x1="767.6" y1="974" x2="767.6" y2="1005.6" stroke="#777" stroke-width="1.7" />
<polygon points="767.6,1005.6 764.2,995.6 771.0,995.6" fill="#000"/>
<line x1="760.7" y1="1102.7" x2="960" y2="1102.7" stroke="#777" stroke-width="1.7" />
<line x1="767.6" y1="1103" x2="767.6" y2="1137" stroke="#777" stroke-width="1.7" />
<polygon points="767.6,1102.7 764.2,1112.7 771.0,1112.7" fill="#000"/>
<line x1="1201" y1="917" x2="1322.6" y2="917" stroke="#777" stroke-width="1.7" />
<line x1="1313" y1="917" x2="1313" y2="990" stroke="#777" stroke-width="1.7" />
<line x1="1313" y1="1022" x2="1313" y2="1102" stroke="#777" stroke-width="1.7" />
<polygon points="1313.0,917.0 1309.6,927.0 1316.4,927.0" fill="#000"/>
<polygon points="1313.0,1102.4 1309.6,1092.4 1316.4,1092.4" fill="#000"/>
<line x1="1074" y1="1072.1" x2="1254.7" y2="1072.1" stroke="#777" stroke-width="1.7" />
<line x1="1246.9" y1="1040.3" x2="1246.9" y2="1072" stroke="#777" stroke-width="1.7" />
<polygon points="1246.9,1072.1 1243.5,1062.1 1250.3,1062.1" fill="#000"/>
<line x1="977" y1="1102.2" x2="1225" y2="1102.2" stroke="#333" stroke-width="1.4" />
<line x1="977" y1="1103.6" x2="1225" y2="1103.6" stroke="#555" stroke-width="1.2" stroke-dasharray="6 3"/>
<line x1="1231.6" y1="1102.4" x2="1322" y2="1102.4" stroke="#777" stroke-width="1.7" />
<line x1="1246.9" y1="1103" x2="1246.9" y2="1137" stroke="#777" stroke-width="1.7" />
<rect x="110" y="1104.2" width="1240" height="19.4" rx="0" stroke="none" stroke-width="0" fill="#ef7d1e" />
<text x="114.1" y="1119.6" font-size="17.8" text-anchor="start" fill="#fff6e6" font-family="Liberation Sans" textLength="104.3" lengthAdjust="spacingAndGlyphs">domostroi.by</text>
<text x="227.3" y="1119.6" font-size="17.8" text-anchor="start" fill="#fff6e6" font-family="Liberation Sans" textLength="104.3" lengthAdjust="spacingAndGlyphs">domostroi.by</text>
<text x="340.5" y="1119.6" font-size="17.8" text-anchor="start" fill="#fff6e6" font-family="Liberation Sans" textLength="104.3" lengthAdjust="spacingAndGlyphs">domostroi.by</text>
<text x="453.70000000000005" y="1119.6" font-size="17.8" text-anchor="start" fill="#fff6e6" font-family="Liberation Sans" textLength="104.3" lengthAdjust="spacingAndGlyphs">domostroi.by</text>
<text x="566.9" y="1119.6" font-size="17.8" text-anchor="start" fill="#fff6e6" font-family="Liberation Sans" textLength="104.3" lengthAdjust="spacingAndGlyphs">domostroi.by</text>
<text x="680.1" y="1119.6" font-size="17.8" text-anchor="start" fill="#fff6e6" font-family="Liberation Sans" textLength="104.3" lengthAdjust="spacingAndGlyphs">domostroi.by</text>
<text x="793.3000000000001" y="1119.6" font-size="17.8" text-anchor="start" fill="#fff6e6" font-family="Liberation Sans" textLength="104.3" lengthAdjust="spacingAndGlyphs">domostroi.by</text>
<text x="906.5" y="1119.6" font-size="17.8" text-anchor="start" fill="#fff6e6" font-family="Liberation Sans" textLength="104.3" lengthAdjust="spacingAndGlyphs">domostroi.by</text>
<text x="1019.7" y="1119.6" font-size="17.8" text-anchor="start" fill="#fff6e6" font-family="Liberation Sans" textLength="104.3" lengthAdjust="spacingAndGlyphs">domostroi.by</text>
<text x="1132.9" y="1119.6" font-size="17.8" text-anchor="start" fill="#fff6e6" font-family="Liberation Sans" textLength="104.3" lengthAdjust="spacingAndGlyphs">domostroi.by</text>
<text x="1246.1" y="1119.6" font-size="17.8" text-anchor="start" fill="#fff6e6" font-family="Liberation Sans" textLength="104.3" lengthAdjust="spacingAndGlyphs">domostroi.by</text>
<text x="190.7" y="34.65" font-size="22.2" text-anchor="middle" fill="#111" textLength="33.95" lengthAdjust="spacingAndGlyphs">425</text>
<text x="191.15" y="67.75" font-size="22.2" text-anchor="middle" fill="#111" textLength="33.22" lengthAdjust="spacingAndGlyphs">190</text>
<text x="17.0" y="389.4" font-size="22.2" text-anchor="middle" fill="#111" textLength="107.47" lengthAdjust="spacingAndGlyphs" transform="rotate(-90 17.0 389.4)">1120 - 1290</text>
<text x="59.5" y="141.85" font-size="22.2" text-anchor="middle" fill="#111" textLength="34.09" lengthAdjust="spacingAndGlyphs" transform="rotate(-90 59.5 141.85)">120</text>
<text x="186.55" y="405.65" font-size="22.2" text-anchor="middle" fill="#111" textLength="34.08" lengthAdjust="spacingAndGlyphs">230</text>
<text x="187.05" y="443.5" font-size="22.2" text-anchor="middle" fill="#111" textLength="32.38" lengthAdjust="spacingAndGlyphs">180</text>
<text x="59.65" y="515.25" font-size="22.2" text-anchor="middle" fill="#111" textLength="33.46" lengthAdjust="spacingAndGlyphs" transform="rotate(-90 59.65 515.25)">135</text>
<text x="51.3" y="615.5" font-size="22.2" text-anchor="middle" fill="#111" textLength="51.49" lengthAdjust="spacingAndGlyphs" transform="rotate(-90 51.3 615.5)">0-170</text>
<text x="513.15" y="16.05" font-size="22.2" text-anchor="middle" fill="#111" textLength="74.02" lengthAdjust="spacingAndGlyphs">155-235</text>
<text x="623.15" y="17.2" font-size="22.2" text-anchor="middle" fill="#111" textLength="67.85" lengthAdjust="spacingAndGlyphs">max 60</text>
<text x="684.4" y="579.65" font-size="22.2" text-anchor="middle" fill="#111" textLength="34.62" lengthAdjust="spacingAndGlyphs" transform="rotate(-90 684.4 579.65)">320</text>
<text x="1337.2" y="294.85" font-size="19.8" text-anchor="middle" fill="#111" textLength="28.33" lengthAdjust="spacingAndGlyphs" transform="rotate(-90 1337.2 294.85)">150</text>
<text x="1304.3" y="386.95" font-size="19.8" text-anchor="middle" fill="#111" textLength="20.53" lengthAdjust="spacingAndGlyphs" transform="rotate(-90 1304.3 386.95)">30</text>
<text x="951.9" y="505.15" font-size="19.8" text-anchor="middle" fill="#111" textLength="29.41" lengthAdjust="spacingAndGlyphs">103</text>
<text x="1143.75" y="505.45" font-size="19.8" text-anchor="middle" fill="#111" textLength="20.35" lengthAdjust="spacingAndGlyphs">62</text>
<text x="1018.5" y="545.95" font-size="19.8" text-anchor="middle" fill="#111" textLength="29.82" lengthAdjust="spacingAndGlyphs">168</text>
<text x="1017.25" y="601.25" font-size="19.8" text-anchor="middle" fill="#111" textLength="30.6" lengthAdjust="spacingAndGlyphs">220</text>
<text x="189.1" y="842.8" font-size="25.2" text-anchor="middle" fill="#111" textLength="43.51" lengthAdjust="spacingAndGlyphs">500</text>
<text x="195.6" y="897.6" font-size="25.2" text-anchor="middle" fill="#111" textLength="44.13" lengthAdjust="spacingAndGlyphs">435</text>
<text x="22.9" y="1034.1" font-size="25.6" text-anchor="middle" fill="#111" textLength="42.76" lengthAdjust="spacingAndGlyphs">155</text>
<text x="357.05" y="1032.7" font-size="25.6" text-anchor="middle" fill="#111" textLength="42.34" lengthAdjust="spacingAndGlyphs">360</text>
<text x="662.0" y="1033.9" font-size="23.2" text-anchor="middle" fill="#111" textLength="39.12" lengthAdjust="spacingAndGlyphs">355</text>
<text x="892.8" y="954.15" font-size="31.6" text-anchor="middle" fill="#111" textLength="55.96" lengthAdjust="spacingAndGlyphs">Ø55</text>
<text x="847.95" y="1015.55" font-size="31.6" text-anchor="middle" fill="#111" textLength="71.26" lengthAdjust="spacingAndGlyphs">Ø100</text>
<text x="767.0" y="1064.75" font-size="31.6" text-anchor="middle" fill="#111" textLength="51.04" lengthAdjust="spacingAndGlyphs">210</text>
<text x="1313.75" y="1017.65" font-size="31.6" text-anchor="middle" fill="#111" textLength="50.66" lengthAdjust="spacingAndGlyphs">420</text>
<text x="1271.05" y="1097.75" font-size="31.6" text-anchor="middle" fill="#111" textLength="34.29" lengthAdjust="spacingAndGlyphs">65</text>
</svg>
</body></html>
